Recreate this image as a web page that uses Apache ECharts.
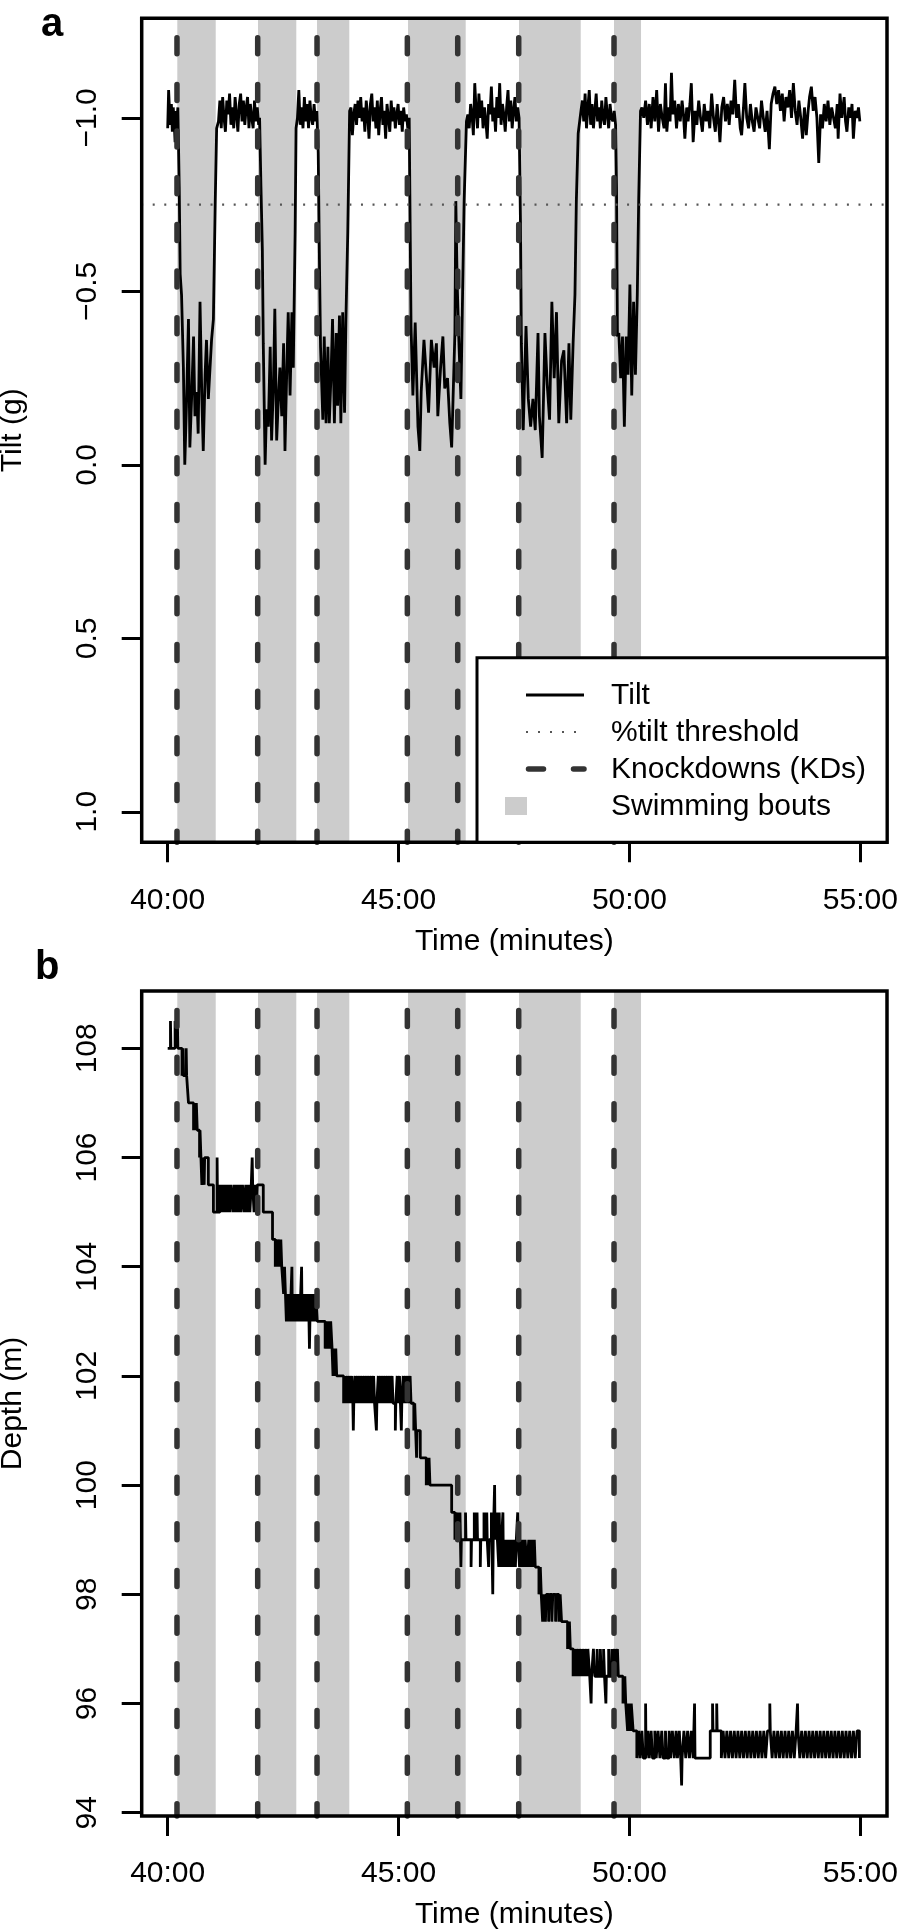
<!DOCTYPE html>
<html>
<head>
<meta charset="utf-8">
<title>Tilt and depth</title>
<script src="https://cdn.jsdelivr.net/npm/echarts@6/dist/echarts.min.js"></script>
<style>
  html, body { margin: 0; padding: 0; background: #fff; }
  #chart { width: 898px; height: 1932px; }
</style>
</head>
<body>
<div id="chart"></div>
<script>
// values, time in minutes
const xTicks = [40, 45, 50, 55];
const xTickLabels = ['40:00', '45:00', '50:00', '55:00'];
const tiltTicks = [-1, -0.5, 0, 0.5, 1];
const tiltTickLabels = ['\u22121.0', '\u22120.5', '0.0', '0.5', '1.0'];
const depthTicks = [94, 96, 98, 100, 102, 104, 106, 108];

const boutStart = [40.208, 41.956, 43.234, 45.205, 47.609, 49.666];
const boutEnd = [41.040, 42.785, 43.933, 46.454, 48.945, 50.251];
const kdTimes = [40.201, 41.949, 43.234, 45.190, 46.281, 47.602, 49.666];
const tiltThreshold = -0.75;

const tiltPoints = [
  [40.00,-0.97],[40.02,-1.08],[40.04,-1.02],[40.06,-0.98],[40.08,-1.04],[40.10,-0.96],[40.12,-1.03],[40.14,-0.99],[40.16,-0.93],[40.18,-1.02],[40.20,-0.99],[40.22,-1.03],
  [40.25,-0.80],[40.27,-0.55],[40.30,-0.49],
  [40.34,-0.28],[40.37,0.00],[40.41,-0.19],[40.45,-0.42],[40.48,-0.05],[40.52,-0.20],[40.56,-0.37],[40.59,-0.14],[40.63,-0.21],[40.66,-0.09],[40.70,-0.47],[40.74,-0.19],[40.77,-0.04],[40.81,-0.26],[40.84,-0.36],[40.88,-0.19],[40.92,-0.19],[40.95,-0.36],[40.99,-0.42],[41.03,-0.76],[41.06,-0.97],
  [41.10,-0.99],[41.13,-1.05],[41.16,-0.97],[41.19,-1.06],[41.22,-1.00],[41.25,-0.96],[41.28,-1.05],[41.31,-1.01],[41.34,-1.07],[41.37,-0.98],[41.40,-1.03],[41.43,-0.97],[41.46,-1.06],[41.49,-1.01],[41.52,-0.96],[41.55,-1.04],[41.58,-1.07],[41.61,-0.99],[41.64,-1.05],[41.67,-0.98],[41.70,-1.03],[41.73,-1.06],[41.76,-0.97],[41.79,-1.04],[41.82,-1.00],[41.85,-0.97],[41.88,-1.05],[41.91,-0.99],[41.94,-1.03],[41.97,-0.98],
  [41.99,-1.00],[42.02,-0.80],[42.05,-0.62],[42.07,-0.35],
  [42.11,0.00],[42.14,-0.16],[42.18,-0.11],[42.22,-0.34],[42.25,-0.07],[42.29,-0.23],[42.32,-0.45],[42.36,-0.07],[42.40,-0.20],[42.43,-0.28],[42.47,-0.14],[42.51,-0.35],[42.54,-0.04],[42.58,-0.28],[42.61,-0.44],[42.65,-0.20],[42.69,-0.44],[42.72,-0.28],[42.76,-0.67],[42.78,-0.97],
  [42.81,-1.00],[42.84,-1.08],[42.87,-0.98],[42.90,-1.03],[42.93,-0.97],[42.96,-1.06],[42.99,-0.99],[43.02,-1.04],[43.05,-0.97],[43.08,-1.05],[43.11,-1.00],[43.14,-0.98],[43.17,-1.04],[43.20,-0.99],[43.23,-1.02],
  [43.26,-0.90],[43.29,-0.55],[43.31,-0.34],
  [43.36,-0.13],[43.39,-0.37],[43.43,-0.12],[43.47,-0.34],[43.50,-0.12],[43.54,-0.27],[43.57,-0.42],[43.61,-0.12],[43.65,-0.38],[43.68,-0.17],[43.72,-0.43],[43.75,-0.12],[43.79,-0.44],[43.83,-0.15],[43.86,-0.42],[43.90,-0.67],[43.94,-1.02],
  [43.97,-1.03],[44.00,-0.95],[44.03,-1.01],[44.06,-1.04],[44.09,-0.98],[44.12,-1.05],[44.15,-1.00],[44.18,-1.06],[44.21,-0.99],[44.24,-1.03],[44.27,-0.96],[44.30,-1.05],[44.33,-1.01],[44.36,-0.94],[44.39,-1.04],[44.42,-1.07],[44.45,-0.99],[44.48,-1.03],[44.51,-0.97],[44.54,-1.05],[44.57,-0.95],[44.60,-1.02],[44.63,-1.06],[44.66,-0.98],[44.69,-1.02],[44.72,-0.94],[44.75,-1.04],[44.78,-1.00],[44.81,-0.96],[44.84,-1.05],[44.87,-0.99],[44.90,-1.03],[44.93,-0.97],[44.96,-1.01],[44.99,-1.04],[45.02,-0.98],[45.05,-1.02],[45.08,-0.96],[45.11,-1.03],[45.14,-0.99],[45.17,-1.01],[45.20,-0.97],[45.23,-1.00],
  [45.25,-0.70],[45.27,-0.40],
  [45.31,-0.20],[45.36,-0.41],[45.42,-0.11],[45.46,-0.04],[45.49,-0.21],[45.55,-0.36],[45.60,-0.26],[45.65,-0.15],[45.71,-0.36],[45.77,-0.28],[45.82,-0.35],[45.85,-0.14],[45.91,-0.28],[45.96,-0.37],[46.00,-0.22],[46.06,-0.25],[46.11,-0.12],[46.15,-0.05],[46.18,-0.19],[46.22,-0.38],[46.24,-0.76],[46.27,-0.52],[46.31,-0.34],[46.35,-0.19],[46.38,-0.44],[46.42,-0.76],[46.47,-0.99],
  [46.50,-1.01],[46.53,-0.97],[46.56,-1.04],[46.59,-1.01],[46.62,-0.95],[46.65,-1.10],[46.68,-1.02],[46.71,-0.97],[46.74,-1.07],[46.77,-1.00],[46.80,-1.05],[46.83,-0.97],[46.86,-1.03],[46.89,-0.99],[46.92,-0.94],[46.95,-1.04],[46.98,-1.01],[47.01,-1.09],[47.04,-0.99],[47.07,-1.03],[47.10,-0.96],[47.13,-1.06],[47.16,-1.00],[47.19,-1.10],[47.22,-0.98],[47.25,-1.04],[47.28,-1.01],[47.31,-0.96],[47.34,-1.03],[47.37,-1.08],[47.40,-0.99],[47.43,-1.05],[47.46,-0.97],[47.49,-1.02],[47.52,-1.06],[47.55,-0.99],[47.58,-1.03],[47.61,-1.00],
  [47.64,-0.70],[47.66,-0.35],
  [47.70,-0.10],[47.76,-0.40],[47.81,-0.19],[47.86,-0.11],[47.91,-0.19],[47.96,-0.10],[48.02,-0.38],[48.05,-0.14],[48.11,-0.02],[48.17,-0.38],[48.22,-0.23],[48.27,-0.13],[48.32,-0.47],[48.37,-0.25],[48.42,-0.44],[48.47,-0.12],[48.53,-0.30],[48.58,-0.33],[48.64,-0.12],[48.69,-0.35],[48.73,-0.13],[48.78,-0.35],[48.82,-0.49],[48.85,-0.76],[48.89,-0.955],[48.95,-1.02],
  [48.98,-1.05],[49.01,-0.99],[49.04,-1.07],[49.07,-0.97],[49.10,-1.03],[49.13,-1.08],[49.16,-0.98],[49.19,-1.04],[49.22,-0.97],[49.25,-1.02],[49.28,-1.07],[49.31,-0.99],[49.34,-1.03],[49.37,-0.97],[49.40,-1.05],[49.43,-1.00],[49.46,-0.98],[49.49,-1.06],[49.52,-1.01],[49.55,-0.97],[49.58,-1.04],[49.61,-1.00],[49.64,-0.99],[49.67,-1.02],[49.70,-0.98],
  [49.72,-0.80],[49.74,-0.37],
  [49.77,-0.38],[49.81,-0.25],[49.85,-0.37],[49.89,-0.11],[49.93,-0.37],[49.97,-0.26],[50.01,-0.52],[50.05,-0.20],[50.09,-0.47],[50.13,-0.26],[50.17,-0.49],[50.20,-0.76],[50.24,-1.02],
  [50.27,-1.03],[50.31,-1.00],[50.35,-1.05],[50.39,-0.98],[50.43,-1.04],[50.47,-0.97],[50.51,-1.06],[50.55,-0.99],[50.59,-1.08],[50.63,-0.96],[50.67,-1.04],[50.71,-1.00],[50.75,-0.97],[50.78,-1.10],[50.81,-0.96],[50.85,-1.03],[50.88,-0.99],[50.91,-1.13],[50.94,-1.01],[50.98,-1.05],[51.02,-0.97],[51.06,-1.04],[51.10,-0.99],[51.14,-1.05],[51.17,-1.01],[51.20,-0.94],[51.24,-1.03],[51.27,-0.99],[51.31,-1.04],[51.34,-1.10],[51.38,-0.93],[51.42,-1.02],[51.46,-0.98],[51.50,-1.05],[51.54,-1.00],[51.58,-0.96],[51.62,-1.04],[51.66,-0.99],[51.70,-1.02],[51.74,-0.97],[51.78,-1.07],[51.82,-1.00],[51.86,-0.96],[51.90,-1.04],[51.93,-0.99],[51.96,-0.93],
  [52.00,-1.03],[52.04,-1.06],[52.08,-0.99],[52.12,-1.04],[52.16,-0.98],[52.20,-1.05],[52.24,-1.01],[52.28,-1.11],[52.32,-1.00],[52.36,-1.04],[52.40,-0.97],[52.43,-0.95],[52.47,-1.03],[52.50,-1.10],[52.54,-1.00],[52.58,-0.97],[52.62,-1.04],[52.66,-0.99],[52.70,-0.96],[52.74,-1.03],[52.78,-1.00],[52.82,-0.97],[52.86,-1.05],[52.90,-1.00],[52.94,-0.96],[52.98,-1.02],[53.03,-0.91],[53.07,-1.04],[53.11,-1.07],[53.15,-1.09],[53.19,-1.04],[53.23,-1.08],[53.27,-1.02],[53.31,-1.07],[53.35,-0.99],[53.39,-1.06],[53.43,-1.03],[53.47,-1.08],[53.51,-1.00],[53.55,-1.10],[53.59,-1.02],[53.63,-0.98],[53.67,-1.05],[53.71,-1.00],[53.75,-0.94],[53.79,-1.03],[53.83,-0.95],[53.87,-1.02],[53.90,-1.06],[53.94,-1.09],[53.98,-1.02],
  [54.02,-1.06],[54.06,-1.00],[54.10,-0.87],[54.14,-1.01],[54.18,-0.97],[54.22,-1.04],[54.26,-0.99],[54.30,-1.05],[54.34,-0.98],[54.38,-1.03],[54.42,-1.00],[54.46,-0.97],[54.50,-1.04],[54.52,-0.94],[54.56,-1.07],[54.60,-1.00],[54.65,-1.06],[54.68,-0.99],[54.71,-0.96],[54.75,-1.03],[54.79,-1.00],[54.82,-1.04],[54.85,-0.94],[54.89,-1.02],[54.93,-1.00],[54.96,-1.03],[54.99,-0.99]
];

// depth is drawn as steps: each value holds until the next time
const depthPoints = [
  [40.00,108],[40.06,108.5],[40.07,108],[40.16,108.5],[40.17,108],[40.21,108.5],[40.22,108],
  [40.31,107.5],[40.33,108],[40.34,107.5],[40.40,108],[40.41,107.5],[40.45,107],
  [40.56,106.5],[40.58,107],[40.60,106.5],[40.62,107],[40.64,106.5],
  [40.69,106],[40.70,106.5],[40.72,106],[40.74,105.5],[40.75,106],[40.79,105.5],[40.80,106],[40.88,105.5],[40.99,105],
  [41.07,106],[41.08,105],[41.13,105.5],[41.16,105],[41.19,105.5],[41.22,105],[41.25,105.5],[41.28,105],[41.31,105.5],[41.34,105],[41.37,105.5],[41.41,105],[41.44,105.5],[41.47,105],[41.50,105.5],[41.53,105],[41.56,105.5],[41.59,105],[41.62,105.5],[41.66,105],[41.69,105.5],[41.72,105],[41.75,105.5],[41.78,105],[41.81,105.5],[41.83,106],[41.84,105.5],[41.87,105],[41.89,105.5],[41.92,105],[41.94,105.5],
  [42.07,105],[42.27,104.5],[42.33,104],[42.34,104.5],[42.38,104],[42.39,104.5],[42.43,104],[42.45,104.5],[42.47,104],
  [42.51,103.5],[42.53,104],[42.55,103.5],
  [42.57,103],[42.59,103.5],[42.61,103],[42.63,103.5],[42.65,103],[42.67,103.5],[42.69,104],[42.70,103],[42.72,103.5],[42.74,103],[42.76,103.5],[42.78,103],[42.80,103.5],[42.82,103],[42.84,103.5],[42.86,103],[42.88,103.5],[42.90,104],[42.91,103],[42.93,103.5],[42.95,103],[42.97,103.5],[42.99,103],[43.01,103.5],[43.03,103],[43.05,103.5],[43.07,102.5],[43.08,103],[43.11,103.5],[43.13,103],[43.16,103.5],[43.18,103],[43.21,103.5],[43.24,103],
  [43.41,102.5],[43.43,103],[43.46,102.5],[43.48,103],[43.51,102.5],[43.53,103],[43.56,102.5],[43.58,102],[43.60,102.5],[43.62,102],[43.64,102.5],[43.66,102],
  [43.81,101.5],[43.84,102],[43.86,101.5],[43.89,102],[43.91,101.5],[43.94,102],[43.96,101.5],[43.99,102],[44.01,101.5],[44.02,101],[44.03,101.5],[44.06,102],[44.08,101.5],[44.11,102],[44.13,101.5],[44.16,102],[44.18,101.5],[44.21,102],[44.23,101.5],[44.26,102],[44.28,101.5],[44.31,102],[44.33,101.5],[44.36,102],[44.38,101.5],[44.41,102],[44.43,101.5],[44.46,102],[44.48,101.5],[44.52,101],[44.53,101.5],[44.56,102],[44.58,101.5],[44.61,102],[44.63,101.5],[44.66,102],[44.68,101.5],[44.71,102],[44.73,101.5],[44.76,102],[44.78,101.5],[44.81,102],[44.83,101.5],[44.86,102],[44.88,101.5],[44.93,101],[44.94,101.5],[44.97,102],[44.99,101.5],[45.02,102],[45.04,101.5],[45.06,101],[45.07,101.5],[45.10,102],[45.12,101.5],[45.15,102],[45.17,101.5],[45.20,102],[45.22,101.5],[45.25,102],[45.27,101.5],
  [45.30,101.5],[45.33,101],[45.35,101.5],[45.37,101],[45.39,100.5],[45.40,101],[45.47,100.5],[45.60,100],[45.62,100.5],[45.64,100],[45.66,100.5],[45.68,100],
  [46.15,99.5],[46.22,99],[46.24,99.5],[46.27,99],[46.29,99.5],[46.31,99],[46.33,99.5],[46.35,98.5],[46.36,99],
  [46.45,99.5],[46.46,99],[46.57,98.5],[46.58,99],[46.64,99.5],[46.65,99],[46.70,99.5],[46.71,99],[46.77,98.5],[46.78,99],[46.85,99.5],[46.86,99],[46.91,99.5],[46.92,99],[46.95,98.5],[46.96,99],[47.01,99.5],[47.02,99],[47.04,98],[47.05,99],[47.08,100],[47.09,99],[47.13,99.5],[47.14,99],[47.17,98.5],[47.18,99.5],[47.19,99],[47.22,98.5],[47.23,99],[47.26,99.5],[47.27,98.5],[47.29,99],[47.31,98.5],[47.33,99],[47.35,98.5],[47.37,99],[47.40,98.5],[47.41,99],[47.44,98.5],[47.46,99],[47.48,98.5],[47.50,99],[47.53,98.5],[47.55,99],[47.58,99.5],[47.59,99],[47.62,98.5],[47.64,99],[47.67,98.5],[47.69,99],[47.72,98.5],[47.74,99],
  [47.78,98.5],[47.82,99],[47.84,98.5],[47.88,99],[47.90,98.5],[47.94,99],[47.96,98.5],
  [48.04,98],[48.07,98.5],[48.09,98],[48.12,97.5],[48.14,98],[48.18,97.5],[48.20,98],[48.25,97.5],[48.27,98],[48.32,97.5],[48.34,98],[48.40,97.5],[48.42,98],[48.47,97.5],[48.50,98],[48.53,97.5],
  [48.66,97],[48.70,97.5],[48.72,97],
  [48.78,96.5],[48.80,97],[48.84,96.5],[48.86,97],[48.90,96.5],[48.92,97],[48.96,96.5],[48.98,97],[49.02,96.5],[49.04,97],[49.08,96.5],[49.10,97],[49.14,96.5],[49.17,96],[49.18,96.5],[49.22,97],[49.25,96.5],[49.30,97],[49.32,96.5],[49.37,97],[49.39,96.5],[49.44,97],[49.46,96.5],[49.49,96],[49.50,96.5],[49.55,97],[49.57,96.5],[49.62,97],[49.64,96.5],[49.68,97],[49.70,96.5],[49.74,97],[49.76,96.5],
  [49.86,96],[49.90,96.5],[49.92,96],[49.96,95.5],[49.98,96],[50.02,95.5],[50.04,96],[50.08,95.5],
  [50.16,95],[50.20,95.5],[50.23,95],[50.27,95.5],[50.30,95],[50.35,96],[50.36,95],[50.40,95.5],[50.43,95],[50.47,95.5],[50.50,95],[50.55,95.5],[50.58,95],[50.62,95.5],[50.66,95],[50.70,95.5],[50.73,95],[50.78,95.5],[50.81,95],[50.86,95.5],[50.89,95],[50.93,95.5],[50.97,95],[51.01,95.5],[51.04,95],[51.08,95.5],[51.11,95],[51.13,94.5],[51.14,95],[51.18,95.5],[51.22,95],[51.26,95.5],[51.30,95],[51.34,95.5],[51.38,95],[51.41,96],[51.42,95],
  [51.75,95.5],[51.80,96],[51.81,95.5],[51.89,96],[51.90,95.5],[51.99,95],[52.03,95.5],[52.07,95],[52.11,95.5],[52.15,95],[52.19,95.5],[52.23,95],[52.27,95.5],[52.31,95],[52.35,95.5],[52.39,95],[52.43,95.5],[52.47,95],[52.51,95.5],[52.55,95],[52.59,95.5],[52.63,95],[52.67,95.5],[52.71,95],[52.75,95.5],[52.79,95],[52.83,95.5],[52.87,95],[52.91,95.5],[52.95,95],[52.99,95.5],[53.04,96],[53.05,95.5],[53.09,95],[53.13,95.5],[53.17,95],[53.21,95.5],[53.25,95],[53.29,95.5],[53.33,95],[53.37,95.5],[53.41,95],[53.45,95.5],[53.49,95],[53.53,95.5],[53.57,95],[53.61,95.5],[53.64,96],[53.65,95.5],[53.69,95],[53.73,95.5],[53.77,95],[53.81,95.5],[53.85,95],[53.89,95.5],[53.93,95],[53.97,95.5],
  [54.01,95],[54.05,95.5],[54.09,95],[54.13,95.5],[54.17,95],[54.21,95.5],[54.25,95],[54.29,95.5],[54.33,95],[54.37,95.5],[54.41,95],[54.45,95.5],[54.49,95],[54.53,95.5],[54.57,95],[54.61,95.5],[54.65,95],[54.69,95.5],[54.73,95],[54.77,95.5],[54.81,95],[54.85,95.5],[54.89,95],[54.93,95.5],[54.98,95]
];

// layout
const FONT = '"Liberation Sans", Arial, Helvetica, sans-serif';
const gridA = { left: 141.7, top: 18.3, width: 745.3, height: 824 };
const gridB = { left: 141.7, top: 991, width: 745.3, height: 825 };
const xRange = [39.437, 55.578];
const tiltRange = [-1.287, 1.088];
const depthRange = [93.94, 109.05];
const TICK_LEN = 20;

const chart = echarts.init(document.getElementById('chart'));

function xAxisCfg(gridIndex) {
  return {
    type: 'value', gridIndex: gridIndex, min: xRange[0], max: xRange[1],
    axisLine: { show: false, onZero: false },
    splitLine: { show: false },
    axisTick: { show: true, customValues: xTicks, length: TICK_LEN, lineStyle: { color: '#000', width: 3 } },
    axisLabel: {
      customValues: xTicks, margin: 43, color: '#000', fontSize: 30, fontFamily: FONT,
      formatter: v => xTickLabels[xTicks.indexOf(v)]
    },
    name: 'Time (minutes)', nameLocation: 'middle', nameGap: 84,
    nameTextStyle: { color: '#000', fontSize: 30, fontFamily: FONT }
  };
}

function yAxisCfg(gridIndex, range, ticks, fmt, name, inverse) {
  return {
    type: 'value', gridIndex: gridIndex, min: range[0], max: range[1], inverse: inverse,
    axisLine: { show: false, onZero: false },
    splitLine: { show: false },
    axisTick: { show: true, customValues: ticks, length: TICK_LEN, lineStyle: { color: '#000', width: 3 } },
    axisLabel: {
      customValues: ticks, rotate: 90, margin: 39, color: '#000', fontSize: 30, fontFamily: FONT,
      formatter: fmt
    },
    name: name, nameLocation: 'middle', nameGap: 114,
    nameTextStyle: { color: '#000', fontSize: 30, fontFamily: FONT }
  };
}

// gray swimming bouts, full height of the plot
function boutItem(params, api) {
  const cs = params.coordSys;
  const x0 = api.coord([api.value(0), api.value(2)])[0];
  const x1 = api.coord([api.value(1), api.value(2)])[0];
  return {
    type: 'rect',
    shape: { x: x0, y: cs.y, width: x1 - x0, height: cs.height },
    style: { fill: '#cccccc' }
  };
}

// knockdowns as dashed verticals
function kdItem(params, api) {
  const cs = params.coordSys;
  const x = api.coord([api.value(0), api.value(1)])[0];
  return {
    type: 'line',
    shape: { x1: x, y1: cs.y, x2: x, y2: cs.y + cs.height },
    style: { stroke: '#333333', lineWidth: 5.5, lineDash: [16, 30.67], lineDashOffset: 27.2, lineCap: 'round' }
  };
}

function thresholdItem(params, api) {
  const cs = params.coordSys;
  const y = api.coord([api.value(0), api.value(1)])[1];
  return {
    type: 'line',
    shape: { x1: cs.x, y1: y, x2: cs.x + cs.width, y2: y },
    style: { stroke: '#555555', lineWidth: 2.2, lineDash: [2, 9.57], lineDashOffset: 0.57 }
  };
}

const boutsA = boutStart.map((s, i) => [s, boutEnd[i], 0]);
const boutsB = boutStart.map((s, i) => [s, boutEnd[i], 100]);

function frameRect(g) {
  return {
    type: 'rect', z: 100, silent: true,
    shape: { x: g.left, y: g.top, width: g.width, height: g.height },
    style: { fill: null, stroke: '#000', lineWidth: 3.5 }
  };
}

// legend box in panel a
const legendBox = { x: 477, y: 657.7, width: 410, height: 184.6 };
const legendRows = [695, 732, 769, 806];
const legendNames = ['Tilt', '%tilt threshold', 'Knockdowns (KDs)', 'Swimming bouts'];
const legendTextX = 611;

const legendItems = [
  {
    type: 'rect', z: 110, silent: true,
    shape: legendBox,
    style: { fill: '#fff', stroke: '#000', lineWidth: 3 }
  },
  {
    type: 'line', z: 111, silent: true,
    shape: { x1: 526, y1: legendRows[0], x2: 584, y2: legendRows[0] },
    style: { stroke: '#000', lineWidth: 2.8 }
  },
  {
    type: 'line', z: 111, silent: true,
    shape: { x1: 526, y1: legendRows[1], x2: 580, y2: legendRows[1] },
    style: { stroke: '#555555', lineWidth: 2.2, lineDash: [2, 10] }
  },
  {
    type: 'line', z: 111, silent: true,
    shape: { x1: 528.5, y1: legendRows[2], x2: 584, y2: legendRows[2] },
    style: { stroke: '#333333', lineWidth: 5.5, lineDash: [15, 30], lineCap: 'round' }
  },
  {
    type: 'rect', z: 111, silent: true,
    shape: { x: 505, y: legendRows[3] - 9, width: 22, height: 18 },
    style: { fill: '#cccccc' }
  }
].concat(legendNames.map((t, i) => ({
  type: 'text', z: 111, silent: true,
  x: legendTextX, y: legendRows[i] + 1,
  style: { text: t, fill: '#000', fontSize: 30, fontFamily: FONT, align: 'left', verticalAlign: 'middle' }
})));

const panelLabels = [
  { type: 'text', z: 111, silent: true, x: 41, y: 25,
    style: { text: 'a', fill: '#000', fontSize: 40, fontWeight: 'bold', fontFamily: FONT, align: 'left', verticalAlign: 'middle' } },
  { type: 'text', z: 111, silent: true, x: 35, y: 968,
    style: { text: 'b', fill: '#000', fontSize: 40, fontWeight: 'bold', fontFamily: FONT, align: 'left', verticalAlign: 'middle' } }
];

const option = {
  animation: false,
  backgroundColor: '#fff',
  grid: [
    Object.assign({ outerBoundsMode: 'none' }, gridA),
    Object.assign({ outerBoundsMode: 'none' }, gridB)
  ],
  xAxis: [xAxisCfg(0), xAxisCfg(1)],
  yAxis: [
    yAxisCfg(0, tiltRange, tiltTicks, v => tiltTickLabels[tiltTicks.indexOf(v)], 'Tilt (g)', true),
    yAxisCfg(1, depthRange, depthTicks, v => String(v), 'Depth (m)', false)
  ],
  series: [
    { type: 'custom', xAxisIndex: 0, yAxisIndex: 0, z: 1, silent: true, renderItem: boutItem, data: boutsA },
    {
      type: 'line', xAxisIndex: 0, yAxisIndex: 0, z: 2, silent: true,
      showSymbol: false, symbol: 'none', data: tiltPoints,
      lineStyle: { color: '#000', width: 2.8 }
    },
    { type: 'custom', xAxisIndex: 0, yAxisIndex: 0, z: 3, silent: true, renderItem: thresholdItem, data: [[xRange[0], tiltThreshold]] },
    { type: 'custom', xAxisIndex: 0, yAxisIndex: 0, z: 4, silent: true, renderItem: kdItem, data: kdTimes.map(t => [t, 0]) },

    { type: 'custom', xAxisIndex: 1, yAxisIndex: 1, z: 1, silent: true, renderItem: boutItem, data: boutsB },
    {
      type: 'line', xAxisIndex: 1, yAxisIndex: 1, z: 2, silent: true,
      showSymbol: false, symbol: 'none', step: 'end', data: depthPoints,
      lineStyle: { color: '#000', width: 2.8 }
    },
    { type: 'custom', xAxisIndex: 1, yAxisIndex: 1, z: 4, silent: true, renderItem: kdItem, data: kdTimes.map(t => [t, 100]) }
  ],
  graphic: [frameRect(gridA), frameRect(gridB)].concat(legendItems, panelLabels)
};

chart.setOption(option);
</script>
</body>
</html>
